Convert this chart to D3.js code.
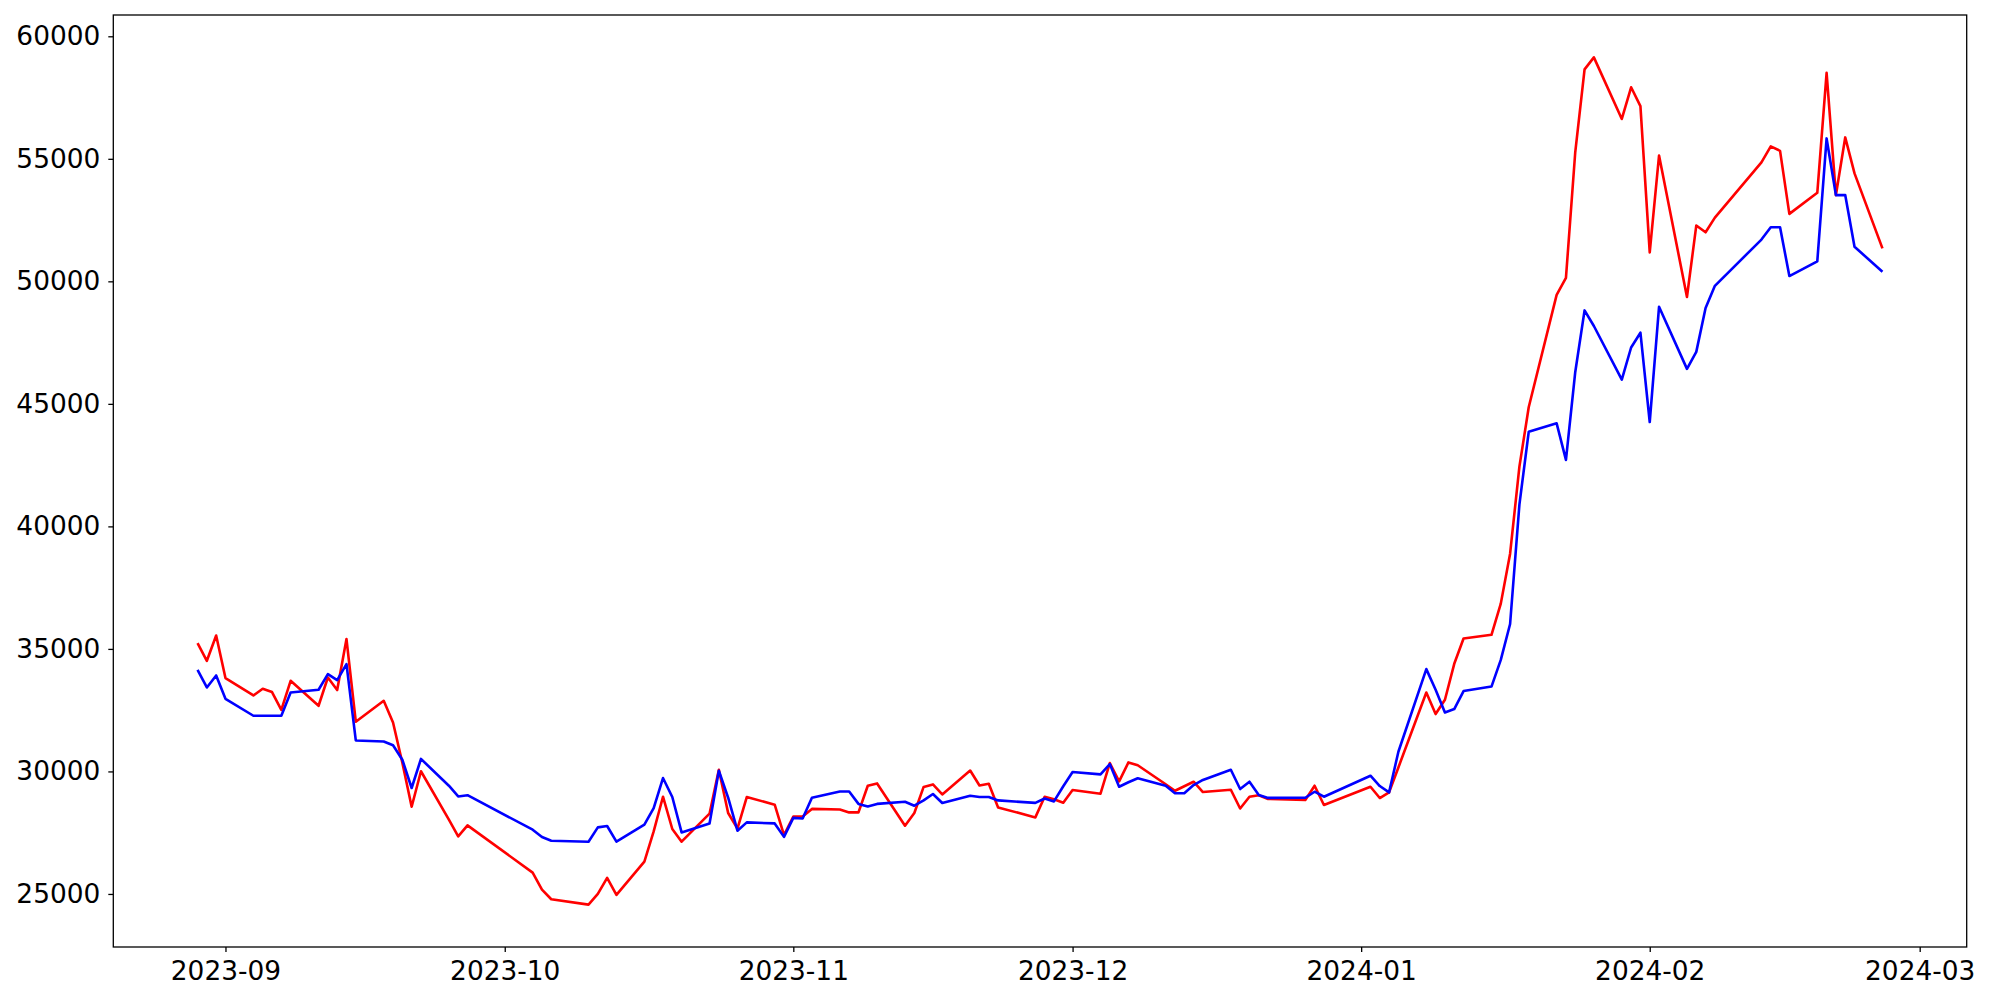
<!DOCTYPE html>
<html lang="en">
<head>
	<meta charset="utf-8">
	<title>D3</title>
	<style>
		body { margin: 0; background: #fff; }
		.tick text { font-family: "DejaVu Sans", sans-serif; font-size: 26.4px; fill: #000; }
		.tick line { stroke: #000; stroke-width: 1.3px; }
		.domain { display: none; }
	</style>
</head>
<body>
	<div id="chart"></div>

	<script src="https://cdn.jsdelivr.net/npm/d3@7"></script>
	<script>
		// trading days
		var dates = [
			"2023-08-29", "2023-08-30", "2023-08-31", "2023-09-01", "2023-09-04", "2023-09-05", "2023-09-06", "2023-09-07",
			"2023-09-08", "2023-09-11", "2023-09-12", "2023-09-13", "2023-09-14", "2023-09-15", "2023-09-18", "2023-09-19",
			"2023-09-20", "2023-09-21", "2023-09-22", "2023-09-25", "2023-09-26", "2023-09-27", "2023-10-04", "2023-10-05",
			"2023-10-06", "2023-10-10", "2023-10-11", "2023-10-12", "2023-10-13", "2023-10-16", "2023-10-17", "2023-10-18",
			"2023-10-19", "2023-10-20", "2023-10-23", "2023-10-24", "2023-10-25", "2023-10-26", "2023-10-27", "2023-10-30",
			"2023-10-31", "2023-11-01", "2023-11-02", "2023-11-03", "2023-11-06", "2023-11-07", "2023-11-08", "2023-11-09",
			"2023-11-10", "2023-11-13", "2023-11-14", "2023-11-15", "2023-11-16", "2023-11-17", "2023-11-20", "2023-11-21",
			"2023-11-22", "2023-11-23", "2023-11-27", "2023-11-28", "2023-11-29", "2023-11-30", "2023-12-01", "2023-12-04",
			"2023-12-05", "2023-12-06", "2023-12-07", "2023-12-08", "2023-12-11", "2023-12-12", "2023-12-13", "2023-12-14",
			"2023-12-15", "2023-12-18", "2023-12-19", "2023-12-20", "2023-12-21", "2023-12-22", "2023-12-26", "2023-12-27",
			"2023-12-28", "2024-01-02", "2024-01-03", "2024-01-04", "2024-01-05", "2024-01-08", "2024-01-09", "2024-01-10",
			"2024-01-11", "2024-01-12", "2024-01-15", "2024-01-16", "2024-01-17", "2024-01-18", "2024-01-19", "2024-01-22",
			"2024-01-23", "2024-01-24", "2024-01-25", "2024-01-26", "2024-01-29", "2024-01-30", "2024-01-31", "2024-02-01",
			"2024-02-02", "2024-02-05", "2024-02-06", "2024-02-07", "2024-02-08", "2024-02-13", "2024-02-14", "2024-02-15",
			"2024-02-16", "2024-02-19", "2024-02-20", "2024-02-21", "2024-02-22", "2024-02-23", "2024-02-26"
		];

		// red line
		var redSeries = [
			35237, 34515, 35547, 33809, 33100, 33373, 33238, 32516,
			33699, 32679, 33834, 33320, 35400, 32027, 32883, 31998,
			30355, 28560, 30008, 28030, 27349, 27798, 25869, 25175,
			24784, 24564, 25000, 25653, 24959, 26317, 27553, 28968,
			27651, 27133, 28275, 30069, 28303, 27663, 28956, 28642,
			27398, 28161, 28161, 28471, 28446, 28328, 28328, 29417,
			29511, 27786, 28303, 29368, 29470, 29062, 30037, 29425,
			29498, 28532, 28124, 28968, 28866, 28724, 29241, 29091,
			30343, 29592, 30367, 30253, 29478, 29213, 29396, 29580,
			29160, 29254, 28487, 28968, 29029, 28878, 28834, 29417,
			28630, 29376, 28915, 29144, 30163, 33222, 32341, 32924,
			34392, 35424, 35575, 36848, 38887, 42439, 44861, 49449,
			50143, 55277, 58650, 59140, 56627, 57920, 57153, 51183,
			55135, 49360, 52276, 52002, 52598, 54857, 55506, 55326,
			52753, 53613, 58507, 53520, 55873, 54405, 51346
		];

		// blue line
		var blueSeries = [
			34148, 33426, 33915, 32965, 32272, 32272, 32272, 32272,
			33222, 33332, 33972, 33728, 34380, 31264, 31224, 31069,
			30477, 29323, 30510, 29417, 28980, 29029, 27622, 27325,
			27174, 27133, 27716, 27773, 27133, 27826, 28507, 29731,
			28956, 27512, 27879, 30029, 28927, 27582, 27920, 27879,
			27329, 28104, 28079, 28927, 29180, 29180, 28675, 28569,
			28675, 28764, 28601, 28817, 29078, 28711, 29009, 28956,
			28956, 28817, 28715, 28895, 28777, 29396, 29976, 29878,
			30302, 29376, 29560, 29723, 29417, 29111, 29111, 29445,
			29653, 30069, 29282, 29580, 29042, 28919, 28927, 29172,
			28968, 29825, 29405, 29144, 30803, 34176, 33332, 32406,
			32545, 33279, 33463, 34551, 36016, 40889, 43858, 44205,
			42712, 46301, 48813, 48177, 45991, 47300, 47904, 44258,
			48960, 46427, 47121, 48911, 49817, 51705, 52206, 52206,
			50216, 50816, 55832, 53520, 53520, 51411, 50392
		];

		var yTicks = [25000, 30000, 35000, 40000, 45000, 50000, 55000, 60000];

		// set the dimensions and margins of the graph
		var margin = {top: 15, right: 33.3, bottom: 53, left: 113.3},
		    width = 2000 - margin.left - margin.right,
		    height = 1000 - margin.top - margin.bottom;

		var parseDate = d3.utcParse("%Y-%m-%d");
		var data = dates.map(function(d, i) {
			return {date: parseDate(d), red: redSeries[i], blue: blueSeries[i]};
		});

		// matplotlib style 5% padding on both axes
		var xExt = d3.extent(data, function(d) { return d.date; });
		var xPad = (xExt[1] - xExt[0]) * 0.05;
		var yMin = d3.min(redSeries.concat(blueSeries)),
		    yMax = d3.max(redSeries.concat(blueSeries)),
		    yPad = (yMax - yMin) * 0.05;

		var x = d3.scaleUtc()
		          .domain([new Date(+xExt[0] - xPad), new Date(+xExt[1] + xPad)])
		          .range([0, width]);
		var y = d3.scaleLinear()
		          .domain([yMin - yPad, yMax + yPad])
		          .range([height, 0]);

		var svg = d3.select("#chart")
				.append("svg")
				.attr("width", 2000)
				.attr("height", 1000)
				.append("g")
		    .attr("transform", "translate(" + margin.left + "," + margin.top + ")");

		// axes
		svg.append("g")
		    .attr("transform", "translate(0," + height + ")")
		    .call(d3.axisBottom(x)
		        .ticks(d3.utcMonth.every(1))
		        .tickFormat(d3.utcFormat("%Y-%m"))
		        .tickSizeInner(5).tickSizeOuter(0).tickPadding(9));

		svg.append("g")
		    .call(d3.axisLeft(y)
		        .tickValues(yTicks)
		        .tickFormat(d3.format("d"))
		        .tickSizeInner(5).tickSizeOuter(0).tickPadding(8));

		// lines
		var redLine = d3.line()
		    .x(function(d) { return x(d.date); })
		    .y(function(d) { return y(d.red); });
		var blueLine = d3.line()
		    .x(function(d) { return x(d.date); })
		    .y(function(d) { return y(d.blue); });

		svg.append("path")
		    .datum(data)
		    .attr("fill", "none")
		    .attr("stroke", "#ff0000")
		    .attr("stroke-width", 2.6)
		    .attr("stroke-linejoin", "round")
		    .attr("d", redLine);

		svg.append("path")
		    .datum(data)
		    .attr("fill", "none")
		    .attr("stroke", "#0000ff")
		    .attr("stroke-width", 2.6)
		    .attr("stroke-linejoin", "round")
		    .attr("d", blueLine);

		// frame
		svg.append("rect")
		    .attr("width", width)
		    .attr("height", height)
		    .attr("fill", "none")
		    .attr("stroke", "#000")
		    .attr("stroke-width", 1.3);
	</script>
</body>
</html>
